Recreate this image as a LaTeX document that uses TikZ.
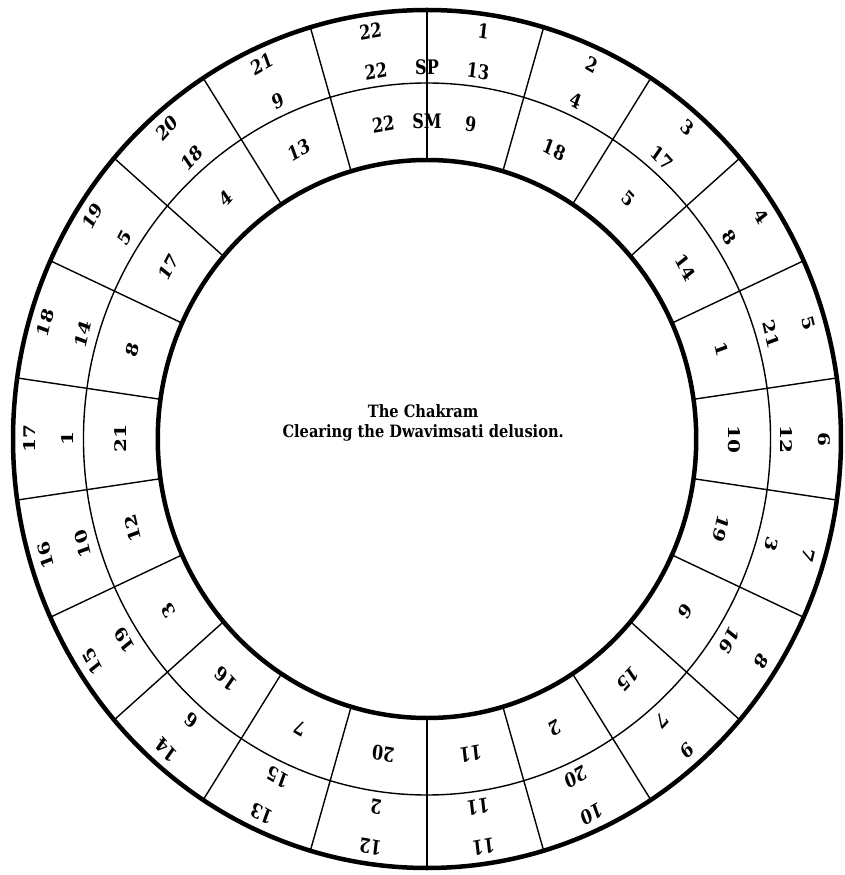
\documentclass[tikz,border=0pt]{standalone}
\usepackage{fontspec}
\usepackage{tikz}
\usetikzlibrary{positioning}
\newfontfamily\chakrafont{DejaVu Serif}

\begin{document}
\begin{tikzpicture}[
  x=0.965pt, y=1pt,
  ring/.style={line width=#1},
  spoke/.style={line width=1.4pt},
  num/.style={font=\chakrafont\fontsize{20}{20}\selectfont\bfseries, inner sep=0pt, xscale=0.8},
  title/.style={font=\chakrafont\fontsize{17}{17}\selectfont\bfseries, align=center, inner sep=0pt, xscale=0.86}
]
  \useasboundingbox (-427pt,439pt) rectangle (418pt,-436pt);

  % Rings
  \draw[ring=4.5pt] (0,0) ellipse [x radius=429, y radius=429];
  \draw[ring=1.4pt] (0,0) ellipse [x radius=356, y radius=356];
  \draw[ring=4.5pt] (0,0) ellipse [x radius=279, y radius=279];

  % Dividers
  \foreach \k in {0,...,21}
    \draw[spoke] ({90-360/22*\k}:279) -- ({90-360/22*\k}:429);

  % Numbers
  \foreach \k in {1,...,22}{
    \pgfmathsetmacro\ang{90-360/22*(\k-0.5)}
    \pgfmathtruncatemacro\spnum{mod(13*\k-1,22)+1}
    \pgfmathtruncatemacro\smnum{mod(9*\k-1,22)+1}
    \node[num, rotate=\ang-90] (out\k) at (\ang:412) {\k};
    \node[num, rotate=\ang-90] (sp\k) at (\ang:372) {\spnum};
    \node[num, rotate=\ang-90] (sm\k) at (\ang:318) {\smnum};
  }
  \node[num] (splbl) at (90:372) {SP};
  \node[num] (smlbl) at (90:318) {SM};

  % Centre
  \node[title] (name) at (-4,28) {The Chakram};
  \node[title, below=7pt of name] (sub) {Clearing the Dwavimsati delusion.};
\end{tikzpicture}
\end{document}
